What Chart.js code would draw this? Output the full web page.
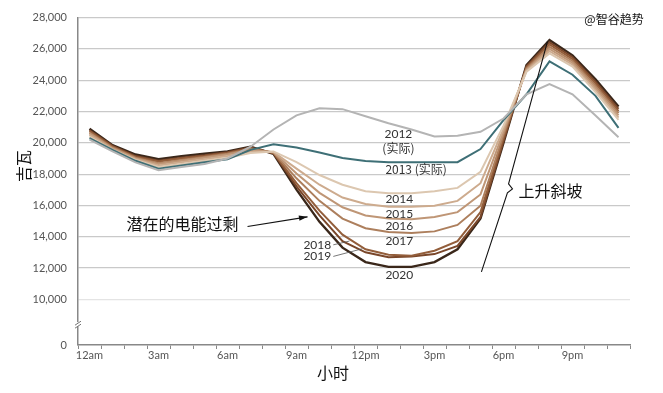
<!DOCTYPE html>
<html>
<head>
<meta charset="utf-8">
<script src="https://cdn.jsdelivr.net/npm/chart.js@4.4.1/dist/chart.umd.min.js"></script>
<style>
  html, body { margin: 0; padding: 0; background: #fff; }
  #wrap { width: 663px; height: 393px; position: relative; }
</style>
</head>
<body>
<div id="wrap"><canvas id="grafico"></canvas></div>
<script>
// ===============================
// DATA (GW per hour)
// ===============================
const horas = ['12am','1am','2am','3am','4am','5am','6am','7am','8am','9am','10am','11am',
               '12pm','1pm','2pm','3pm','4pm','5pm','6pm','7pm','8pm','9pm','10pm','11pm'];

const y2012 = [20200,19450,18750,18250,18450,18650,19000,19750,20850,21750,22200,22150,21700,21250,20850,20400,20450,20700,21550,23100,23750,23100,21750,20350];
const y2013 = [20300,19550,18850,18350,18550,18750,18950,19550,19900,19700,19380,19030,18830,18760,18760,18760,18760,19600,21450,23100,25200,24350,23000,20950];
const y2014 = [20400,19550,18900,18450,18650,18850,19050,19350,19450,18760,17940,17320,16910,16770,16770,16910,17120,18150,21100,24540,25710,24870,23240,21470];
const y2015 = [20500,19600,18950,18550,18750,18950,19150,19450,19420,18350,17320,16500,16090,15920,15920,15980,16290,17420,20900,24610,25850,24990,23370,21610];
const y2016 = [20600,19650,19000,18650,18850,19050,19250,19550,19400,18040,16800,15880,15360,15160,15120,15260,15570,16700,20700,24680,26000,25110,23510,21750];
const y2017 = [20650,19700,19050,18700,18900,19100,19300,19600,19380,17730,16290,15160,14540,14300,14230,14340,14750,15980,20500,24750,26140,25230,23640,21890];
const y2018 = [20750,19750,19100,18800,19000,19150,19350,19650,19350,17430,15670,14130,13200,12850,12790,13100,13720,15570,20300,24820,26280,25350,23780,22030];
const y2019 = [20800,19800,19150,18850,19050,19200,19400,19700,19330,17220,15360,13720,13000,12690,12730,12890,13410,15260,20100,24890,26420,25470,23910,22170];
const y2020 = [20900,19850,19250,18950,19150,19300,19450,19750,19300,17010,14950,13300,12380,12070,12070,12380,13200,15160,20000,24970,26560,25590,24050,22310];

const series = [y2012, y2013, y2014, y2015, y2016, y2017, y2018, y2019, y2020];
const seriesNames = ['2012','2013','2014','2015','2016','2017','2018','2019','2020'];
const seriesColors = ['#b4b4b4','#3e6f76','#dcc7b0','#cdab8e','#bf9676','#ad7f5d','#935e3b','#7a472a','#3a271a'];

// axis: break between 0 and 10,000 (bottom of axis labelled 0)
const yBase = 7080;
const yTicks = [yBase,10000,12000,14000,16000,18000,20000,22000,24000,26000,28000];

const fontLat = '"Lato", "Liberation Sans", sans-serif';
const fontCJK = '"Noto Sans CJK SC", sans-serif';

// ===============================
// ANNOTATIONS (drawn on top)
// ===============================
const anotacoes = {
  id: 'anotacoes',
  afterDatasetsDraw(chart) {
    const ctx = chart.ctx;
    const sx = chart.scales.x, sy = chart.scales.y;
    const px = h => sx.getPixelForValue(h);
    const py = v => sy.getPixelForValue(v);

    ctx.save();
    ctx.fillStyle = '#333';
    ctx.textBaseline = 'middle';

    // year labels
    ctx.font = '12px ' + fontLat;
    ctx.textAlign = 'center';
    ctx.fillText('2012', px(13.43), py(20530));
    ctx.font = '12px ' + fontCJK;
    ctx.fillText('(实际)', px(13.43), py(19660));
    ctx.fillText('2013 (实际)', px(14.2), py(18300));
    ctx.font = '12px ' + fontLat;
    ctx.fillText('2014', px(13.47), py(16380));
    ctx.fillText('2015', px(13.47), py(15450));
    ctx.fillText('2016', px(13.47), py(14650));
    ctx.fillText('2017', px(13.47), py(13720));
    ctx.fillText('2020', px(13.47), py(11560));

    ctx.textAlign = 'right';
    ctx.fillText('2018', px(10.51), py(13480));
    ctx.fillText('2019', px(10.51), py(12740));

    ctx.strokeStyle = '#555';
    ctx.lineWidth = 0.8;
    ctx.beginPath();
    ctx.moveTo(px(10.6), py(13480)); ctx.lineTo(px(11.3), py(13720));
    ctx.moveTo(px(10.6), py(12740)); ctx.lineTo(px(11.86), py(13230));
    ctx.stroke();

    // surplus label + arrow
    ctx.fillStyle = '#111';
    ctx.font = '16px ' + fontCJK;
    ctx.textAlign = 'right';
    ctx.fillText('潜在的电能过剩', px(6.48), py(14840));

    const ax0 = px(6.87), ay0 = py(14650), ax1 = px(9.48), ay1 = py(15270);
    ctx.strokeStyle = '#111';
    ctx.lineWidth = 1.2;
    ctx.beginPath();
    ctx.moveTo(ax0, ay0); ctx.lineTo(ax1, ay1);
    ctx.stroke();
    const ang = Math.atan2(ay1 - ay0, ax1 - ax0);
    ctx.beginPath();
    ctx.moveTo(ax1, ay1);
    ctx.lineTo(ax1 - 9 * Math.cos(ang - 0.3), ay1 - 9 * Math.sin(ang - 0.3));
    ctx.lineTo(ax1 - 9 * Math.cos(ang + 0.3), ay1 - 9 * Math.sin(ang + 0.3));
    ctx.closePath();
    ctx.fill();

    // ramp brace + label
    ctx.lineWidth = 1.1;
    ctx.beginPath();
    ctx.moveTo(px(17.04), py(11750));
    ctx.lineTo(px(18.17), py(16810));
    ctx.lineTo(px(18.39), py(17060));
    ctx.lineTo(px(18.22), py(17370));
    ctx.lineTo(px(19.91), py(26460));
    ctx.stroke();

    ctx.textAlign = 'left';
    ctx.fillText('上升斜坡', px(18.65), py(16940));

    // break mark on the y axis
    const bx = sx.left, by = py(8410);
    ctx.fillStyle = '#fff';
    ctx.fillRect(bx - 3, by - 2, 6, 4);
    ctx.strokeStyle = '#777';
    ctx.lineWidth = 1;
    ctx.beginPath();
    ctx.moveTo(bx - 3, by + 1); ctx.lineTo(bx + 3, by - 3);
    ctx.moveTo(bx - 3, by + 4); ctx.lineTo(bx + 3, by);
    ctx.stroke();

    // axis titles
    ctx.fillStyle = '#111';
    ctx.font = '16px ' + fontCJK;
    ctx.textAlign = 'center';
    ctx.fillText('小时', 333, 373);
    ctx.save();
    ctx.translate(24, 166);
    ctx.rotate(-Math.PI / 2);
    ctx.fillText('吉瓦', 0, 0);
    ctx.restore();

    // watermark
    ctx.font = '12px ' + fontCJK;
    ctx.fillText('@智谷趋势', 614, 19);

    ctx.restore();
  }
};

// ===============================
// CHART
// ===============================
const canvas = document.getElementById('grafico');

new Chart(canvas, {
  type: 'line',
  data: {
    labels: horas,
    datasets: series.map((d, i) => ({
      label: seriesNames[i],
      data: d,
      borderColor: seriesColors[i],
      borderWidth: i === 8 ? 2.4 : 2,
      pointRadius: 0,
      tension: 0,
      fill: false
    }))
  },
  options: {
    responsive: true,
    maintainAspectRatio: false,
    animation: false,
    layout: { padding: { top: 6, right: 33, left: 0, bottom: 0 } },
    plugins: {
      legend: { display: false },
      tooltip: { enabled: false }
    },
    scales: {
      x: {
        type: 'category',
        offset: true,
        afterFit: s => { s.height = 48; },
        grid: {
          offset: true,
          drawOnChartArea: false,
          drawTicks: true,
          tickLength: 4,
          color: '#888'
        },
        border: { color: '#888', width: 1.5 },
        ticks: {
          autoSkip: false,
          maxRotation: 0,
          padding: 0,
          color: '#555',
          font: { family: fontLat, size: 11 },
          callback: (v, i) => (i % 3 === 0 ? horas[i] : '')
        }
      },
      y: {
        min: yBase,
        max: 28000,
        afterFit: s => { s.width = 78; },
        afterBuildTicks: s => { s.ticks = yTicks.map(v => ({ value: v })); },
        grid: {
          drawTicks: false,
          color: ctx => (ctx.tick && ctx.tick.value === yBase ? 'rgba(0,0,0,0)' :
                         ctx.tick && ctx.tick.value === 10000 ? '#e4e4e4' : '#c9c9c9'),
          lineWidth: 1.2
        },
        border: { color: '#888', width: 1.5 },
        ticks: {
          padding: 11,
          color: '#555',
          font: { family: fontLat, size: 11 },
          callback: v => (v === yBase ? '0' : Number(v).toLocaleString('en-US'))
        }
      }
    }
  },
  plugins: [anotacoes]
});
</script>
</body>
</html>
